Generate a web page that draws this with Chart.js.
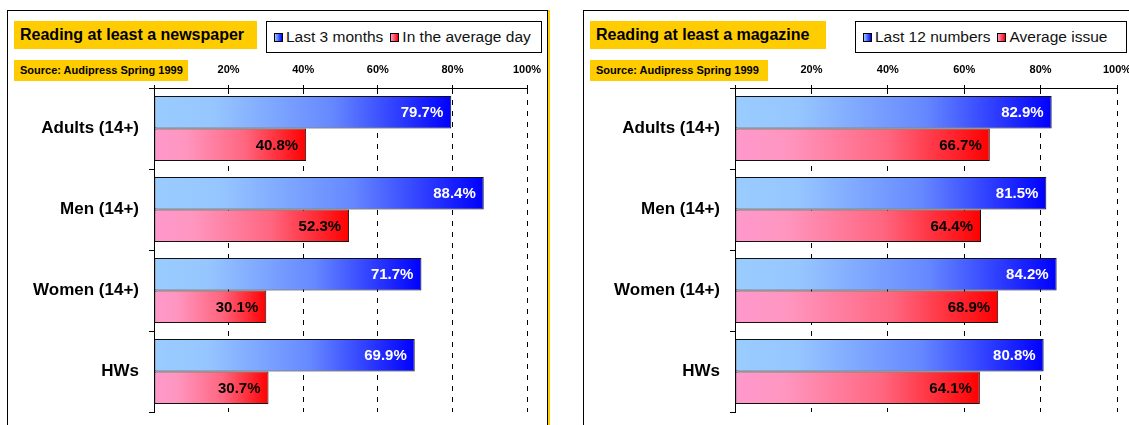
<!DOCTYPE html>
<html>
<head>
<meta charset="utf-8">
<script src="https://cdn.jsdelivr.net/npm/chart.js@4.4.1/dist/chart.umd.min.js"></script>
<style>
  body { margin: 0; width: 1129px; height: 425px; overflow: hidden; background: #fff; position: relative;
         font-family: Arial, "Liberation Sans", sans-serif; color: #000; }
  .frame { position: absolute; top: 10px; height: 430px; border: 1px solid #000; border-bottom: none; box-sizing: border-box; }
  .title { position: absolute; background: #ffcc00; font-weight: bold; font-size: 16px; height: 28px; line-height: 28px; padding-left: 6px; box-sizing: border-box; white-space: nowrap; }
  .source { position: absolute; background: #ffcc00; font-weight: bold; font-size: 11px; height: 21px; line-height: 21px; padding-left: 6px; box-sizing: border-box; white-space: nowrap; }
  .legend { position: absolute; height: 32px; border: 1px solid #000; box-sizing: border-box; font-size: 15.5px; display: flex; align-items: center; padding-left: 7px; white-space: nowrap; color: #111; }
  .legend .sw { display: inline-block; width: 9px; height: 9px; border: 1px solid #000; box-sizing: border-box; margin-right: 3px; }
  .legend .item { display: flex; align-items: center; margin-right: 7px; }
  canvas { position: absolute; top: 0; }
</style>
</head>
<body>
<div class="frame" style="left:7px; width:541px;"></div>
<div style="position:absolute; left:548px; top:10px; width:2px; height:420px; background:#ffcc00;"></div>
<div class="frame" style="left:583px; width:560px;"></div>

<div class="title" style="left:14px; top:21px; width:243px;" id="title1"></div>
<div class="legend" style="left:266px; top:21px; width:276px;" id="legend1"></div>
<div class="source" style="left:14px; top:60px; width:174px;" id="source1"></div>

<div class="title" style="left:590px; top:21px; width:236px;" id="title2"></div>
<div class="legend" style="left:855px; top:21px; width:272px;" id="legend2"></div>
<div class="source" style="left:590px; top:60px; width:178px;" id="source2"></div>

<canvas id="newspaperChart" width="548" height="425" style="left:0px;"></canvas>
<canvas id="magazineChart" width="546" height="425" style="left:583px;"></canvas>

<script>
const categories = ["Adults (14+)", "Men (14+)", "Women (14+)", "HWs"];

const newspaperTitle = "Reading at least a newspaper";
const newspaperSeries = ["Last 3 months", "In the average day"];
const newspaperLast3Months = [79.7, 88.4, 71.7, 69.9];
const newspaperAverageDay = [40.8, 52.3, 30.1, 30.7];

const magazineTitle = "Reading at least a magazine";
const magazineSeries = ["Last 12 numbers", "Average issue"];
const magazineLast12Numbers = [82.9, 81.5, 84.2, 80.8];
const magazineAverageIssue = [66.7, 64.4, 68.9, 64.1];

const sourceText = "Source: Audipress Spring 1999";

const blueStops = [[0, "#99ccff"], [0.2, "#96c6ff"], [0.6, "#6688ff"], [1, "#0000ff"]];
const redStops = [[0, "#ff99cc"], [0.2, "#ff96c0"], [0.6, "#ff6680"], [1, "#ff0000"]];

// gradient runs along each bar, from 0 to the bar's own value
function barFill(stops) {
  return c => {
    const chart = c.chart;
    if (c.type !== "data" || !chart.chartArea) return stops[stops.length - 1][1];
    const x = chart.scales.x;
    const g = chart.ctx.createLinearGradient(x.getPixelForValue(0), 0, x.getPixelForValue(c.raw), 0);
    stops.forEach(s => g.addColorStop(s[0], s[1]));
    return g;
  };
}

const valueLabels = {
  id: "valueLabels",
  afterDatasetsDraw(chart) {
    const ctx = chart.ctx;
    ctx.save();
    ctx.font = "bold 15px Arial, 'Liberation Sans'";
    ctx.textAlign = "right";
    ctx.textBaseline = "middle";
    chart.data.datasets.forEach((ds, i) => {
      chart.getDatasetMeta(i).data.forEach((bar, j) => {
        ctx.fillStyle = ds.labelColor;
        ctx.fillText(ds.data[j].toFixed(1) + "%", bar.x - 8, bar.y + 1);
      });
    });
    ctx.restore();
  }
};

function makeChart(id, seriesNames, first, second, yWidth, padRight) {
  const ctx = document.getElementById(id).getContext("2d");
  return new Chart(ctx, {
    type: "bar",
    data: {
      labels: categories,
      datasets: [
        {
          label: seriesNames[0],
          data: first,
          backgroundColor: barFill(blueStops),
          borderColor: "#111",
          borderWidth: 1,
          borderSkipped: false,
          labelColor: "#fff",
        },
        {
          label: seriesNames[1],
          data: second,
          backgroundColor: barFill(redStops),
          borderColor: "#111",
          borderWidth: 1,
          borderSkipped: false,
          labelColor: "#000",
        },
      ],
    },
    options: {
      indexAxis: "y",
      responsive: false,
      animation: false,
      devicePixelRatio: 1,
      categoryPercentage: 0.8,
      barPercentage: 1,
      layout: { padding: { left: 0, right: padRight, top: 58, bottom: 13 } },
      plugins: { legend: { display: false }, tooltip: { enabled: false } },
      scales: {
        x: {
          position: "top",
          min: 0,
          max: 100,
          afterFit: s => { s.height = 30; s.paddingLeft = 0; s.paddingRight = 0; },
          ticks: {
            stepSize: 20,
            padding: 8,
            color: "#000",
            font: { family: "Arial, 'Liberation Sans'", size: 11, weight: "bold" },
            callback: v => (v === 0 ? "" : v + "%"),
          },
          grid: { color: "#000", tickLength: 3, tickColor: "#000", tickBorderDash: [] },
          border: { color: "#000", dash: [5, 6] },
        },
        y: {
          afterFit: s => { s.width = yWidth; s.paddingTop = 0; s.paddingBottom = 0; },
          ticks: {
            padding: 10,
            color: "#000",
            font: { family: "Arial, 'Liberation Sans'", size: 17, weight: "bold" },
          },
          grid: { offset: true, drawOnChartArea: false, tickLength: 5, color: "#000" },
          border: { color: "#000" },
        },
      },
    },
    plugins: [valueLabels],
  });
}

function fillBoxes(n, title, chart) {
  document.getElementById("title" + n).textContent = title;
  document.getElementById("source" + n).textContent = sourceText;
  const legend = document.getElementById("legend" + n);
  const swatches = ["linear-gradient(90deg, #99ccff, #0000ff)", "linear-gradient(90deg, #ff99cc, #ff0000)"];
  chart.data.datasets.forEach((ds, i) => {
    const item = document.createElement("span");
    item.className = "item";
    const sw = document.createElement("span");
    sw.className = "sw";
    sw.style.background = swatches[i];
    item.appendChild(sw);
    item.appendChild(document.createTextNode(ds.label));
    legend.appendChild(item);
  });
}

const newspaperChart = makeChart("newspaperChart", newspaperSeries, newspaperLast3Months, newspaperAverageDay, 154, 21);
const magazineChart = makeChart("magazineChart", magazineSeries, magazineLast12Numbers, magazineAverageIssue, 152, 12);
fillBoxes(1, newspaperTitle, newspaperChart);
fillBoxes(2, magazineTitle, magazineChart);
</script>
</body>
</html>
